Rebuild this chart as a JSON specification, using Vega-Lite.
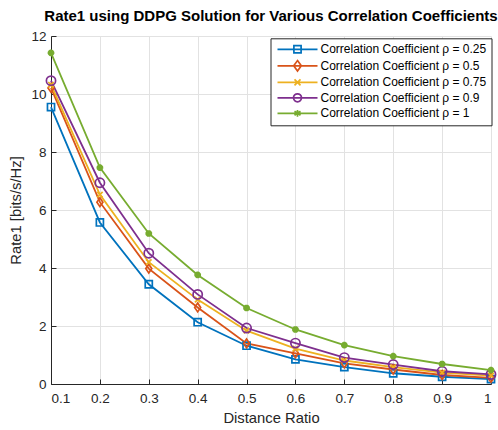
{
  "$schema": "https://vega.github.io/schema/vega-lite/v6.json",
  "description": "Rate1 versus distance ratio for several correlation coefficients",
  "autosize": "none",
  "padding": {"left": 51, "top": 36, "right": 7, "bottom": 46},
  "width": 440,
  "height": 348,
  "title": {
    "text": "Rate1 using DDPG Solution for Various Correlation Coefficients",
    "font": "Liberation Sans",
    "fontSize": 15,
    "fontWeight": "bold",
    "color": "#000000",
    "anchor": "middle",
    "frame": "group",
    "offset": 5
  },
  "data": {
    "values": [
      {"rho": "0.25", "d": 0.1, "rate": 9.55},
      {"rho": "0.25", "d": 0.2, "rate": 5.57},
      {"rho": "0.25", "d": 0.3, "rate": 3.44},
      {"rho": "0.25", "d": 0.4, "rate": 2.13},
      {"rho": "0.25", "d": 0.5, "rate": 1.32},
      {"rho": "0.25", "d": 0.6, "rate": 0.85},
      {"rho": "0.25", "d": 0.7, "rate": 0.58},
      {"rho": "0.25", "d": 0.8, "rate": 0.37},
      {"rho": "0.25", "d": 0.9, "rate": 0.25},
      {"rho": "0.25", "d": 1.0, "rate": 0.17},
      {"rho": "0.5", "d": 0.1, "rate": 10.21},
      {"rho": "0.5", "d": 0.2, "rate": 6.27},
      {"rho": "0.5", "d": 0.3, "rate": 3.98},
      {"rho": "0.5", "d": 0.4, "rate": 2.64},
      {"rho": "0.5", "d": 0.5, "rate": 1.4},
      {"rho": "0.5", "d": 0.6, "rate": 1.06},
      {"rho": "0.5", "d": 0.7, "rate": 0.71},
      {"rho": "0.5", "d": 0.8, "rate": 0.5},
      {"rho": "0.5", "d": 0.9, "rate": 0.31},
      {"rho": "0.5", "d": 1.0, "rate": 0.21},
      {"rho": "0.75", "d": 0.1, "rate": 10.32},
      {"rho": "0.75", "d": 0.2, "rate": 6.53},
      {"rho": "0.75", "d": 0.3, "rate": 4.2},
      {"rho": "0.75", "d": 0.4, "rate": 2.91},
      {"rho": "0.75", "d": 0.5, "rate": 1.84},
      {"rho": "0.75", "d": 0.6, "rate": 1.22},
      {"rho": "0.75", "d": 0.7, "rate": 0.81},
      {"rho": "0.75", "d": 0.8, "rate": 0.58},
      {"rho": "0.75", "d": 0.9, "rate": 0.39},
      {"rho": "0.75", "d": 1.0, "rate": 0.29},
      {"rho": "0.9", "d": 0.1, "rate": 10.46},
      {"rho": "0.9", "d": 0.2, "rate": 6.94},
      {"rho": "0.9", "d": 0.3, "rate": 4.51},
      {"rho": "0.9", "d": 0.4, "rate": 3.09},
      {"rho": "0.9", "d": 0.5, "rate": 1.93},
      {"rho": "0.9", "d": 0.6, "rate": 1.41},
      {"rho": "0.9", "d": 0.7, "rate": 0.91},
      {"rho": "0.9", "d": 0.8, "rate": 0.67},
      {"rho": "0.9", "d": 0.9, "rate": 0.44},
      {"rho": "0.9", "d": 1.0, "rate": 0.33},
      {"rho": "1", "d": 0.1, "rate": 11.42},
      {"rho": "1", "d": 0.2, "rate": 7.46},
      {"rho": "1", "d": 0.3, "rate": 5.19},
      {"rho": "1", "d": 0.4, "rate": 3.76},
      {"rho": "1", "d": 0.5, "rate": 2.62},
      {"rho": "1", "d": 0.6, "rate": 1.88},
      {"rho": "1", "d": 0.7, "rate": 1.34},
      {"rho": "1", "d": 0.8, "rate": 0.96},
      {"rho": "1", "d": 0.9, "rate": 0.69},
      {"rho": "1", "d": 1.0, "rate": 0.48}
    ]
  },
  "encoding": {
    "x": {
      "field": "d",
      "type": "quantitative",
      "title": "Distance Ratio",
      "scale": {"domain": [0.1, 1], "nice": false, "zero": false},
      "axis": {
        "values": [0.1, 0.2, 0.3, 0.4, 0.5, 0.6, 0.7, 0.8, 0.9, 1],
        "format": "~g",
        "labelPadding": 12,
        "titlePadding": 6
      }
    },
    "y": {
      "field": "rate",
      "type": "quantitative",
      "title": "Rate1 [bits/s/Hz]",
      "scale": {"domain": [0, 12], "nice": false},
      "axis": {"values": [0, 2, 4, 6, 8, 10, 12], "labelPadding": 10, "titlePadding": 7}
    },
    "color": {
      "field": "rho",
      "type": "nominal",
      "scale": {
        "domain": ["0.25", "0.5", "0.75", "0.9", "1"],
        "range": ["#0072BD", "#D95319", "#EDB120", "#7E2F8E", "#77AC30"]
      },
      "legend": {"labelExpr": "'Correlation Coefficient ρ = ' + datum.label"}
    }
  },
  "layer": [
    {
      "mark": {"type": "line", "strokeWidth": 1.8}
    },
    {
      "transform": [{"filter": "datum.rho === '0.25'"}],
      "mark": {"type": "point", "shape": "square", "size": 50, "filled": false, "strokeWidth": 1.7, "opacity": 1}
    },
    {
      "transform": [{"filter": "datum.rho === '0.5'"}],
      "mark": {"type": "point", "shape": "M0,-1.25L0.85,0L0,1.25L-0.85,0Z", "size": 50, "filled": false, "strokeWidth": 1.7, "opacity": 1}
    },
    {
      "transform": [{"filter": "datum.rho === '0.75'"}],
      "mark": {"type": "point", "shape": "M-1,-1L1,1M-1,1L1,-1", "size": 30, "filled": false, "strokeWidth": 1.7, "opacity": 1}
    },
    {
      "transform": [{"filter": "datum.rho === '0.9'"}],
      "mark": {"type": "point", "shape": "circle", "size": 85, "filled": false, "strokeWidth": 1.7, "opacity": 1}
    },
    {
      "transform": [{"filter": "datum.rho === '1'"}],
      "mark": {"type": "point", "shape": "M-1,0L1,0M0,-1L0,1M-0.7,-0.7L0.7,0.7M-0.7,0.7L0.7,-0.7", "size": 45, "filled": false, "strokeWidth": 2.3, "opacity": 1}
    },
    {
      "mark": {"type": "point", "filled": false, "size": 0, "opacity": 1},
      "encoding": {
        "shape": {
          "field": "rho",
          "type": "nominal",
          "scale": {
            "domain": ["0.25", "0.5", "0.75", "0.9", "1"],
            "range": [
              "M-5,0H5M-0.9,-0.9H0.9V0.9H-0.9Z",
              "M-5,0H5M0,-1.3L0.95,0L0,1.3L-0.95,0Z",
              "M-5,0H5M-0.75,-0.75L0.75,0.75M-0.75,0.75L0.75,-0.75",
              "M-5,0H5M1,0A1,1,0,1,1,-1,0A1,1,0,1,1,1,0Z",
              "M-5,0H5M0,-0.85V0.85M-0.75,-0.5L0.75,0.5M-0.75,0.5L0.75,-0.5"
            ]
          },
          "legend": {"labelExpr": "'Correlation Coefficient ρ = ' + datum.label"}
        }
      }
    }
  ],
  "config": {
    "font": "Liberation Sans",
    "view": {"stroke": null},
    "axis": {
      "labelFont": "Liberation Sans",
      "labelFontSize": 13.5,
      "labelColor": "#262626",
      "titleFont": "Liberation Sans",
      "titleFontSize": 14.8,
      "titleFontWeight": "normal",
      "titleColor": "#262626",
      "domainColor": "#262626",
      "tickColor": "#262626",
      "tickSize": -5,
      "gridColor": "#e2e2e2",
      "gridWidth": 1
    },
    "legend": {
      "title": null,
      "orient": "none",
      "legendX": 219.5,
      "legendY": 2.3,
      "symbolSize": 64,
      "symbolOffset": 16,
      "symbolStrokeWidth": 1.7,
      "symbolOpacity": 1,
      "labelOffset": 17,
      "rowPadding": 0.5,
      "padding": 5,
      "strokeColor": "#262626",
      "fillColor": "#ffffff",
      "labelFont": "Liberation Sans",
      "labelFontSize": 12,
      "labelColor": "#000000",
      "labelLimit": 0
    }
  }
}
